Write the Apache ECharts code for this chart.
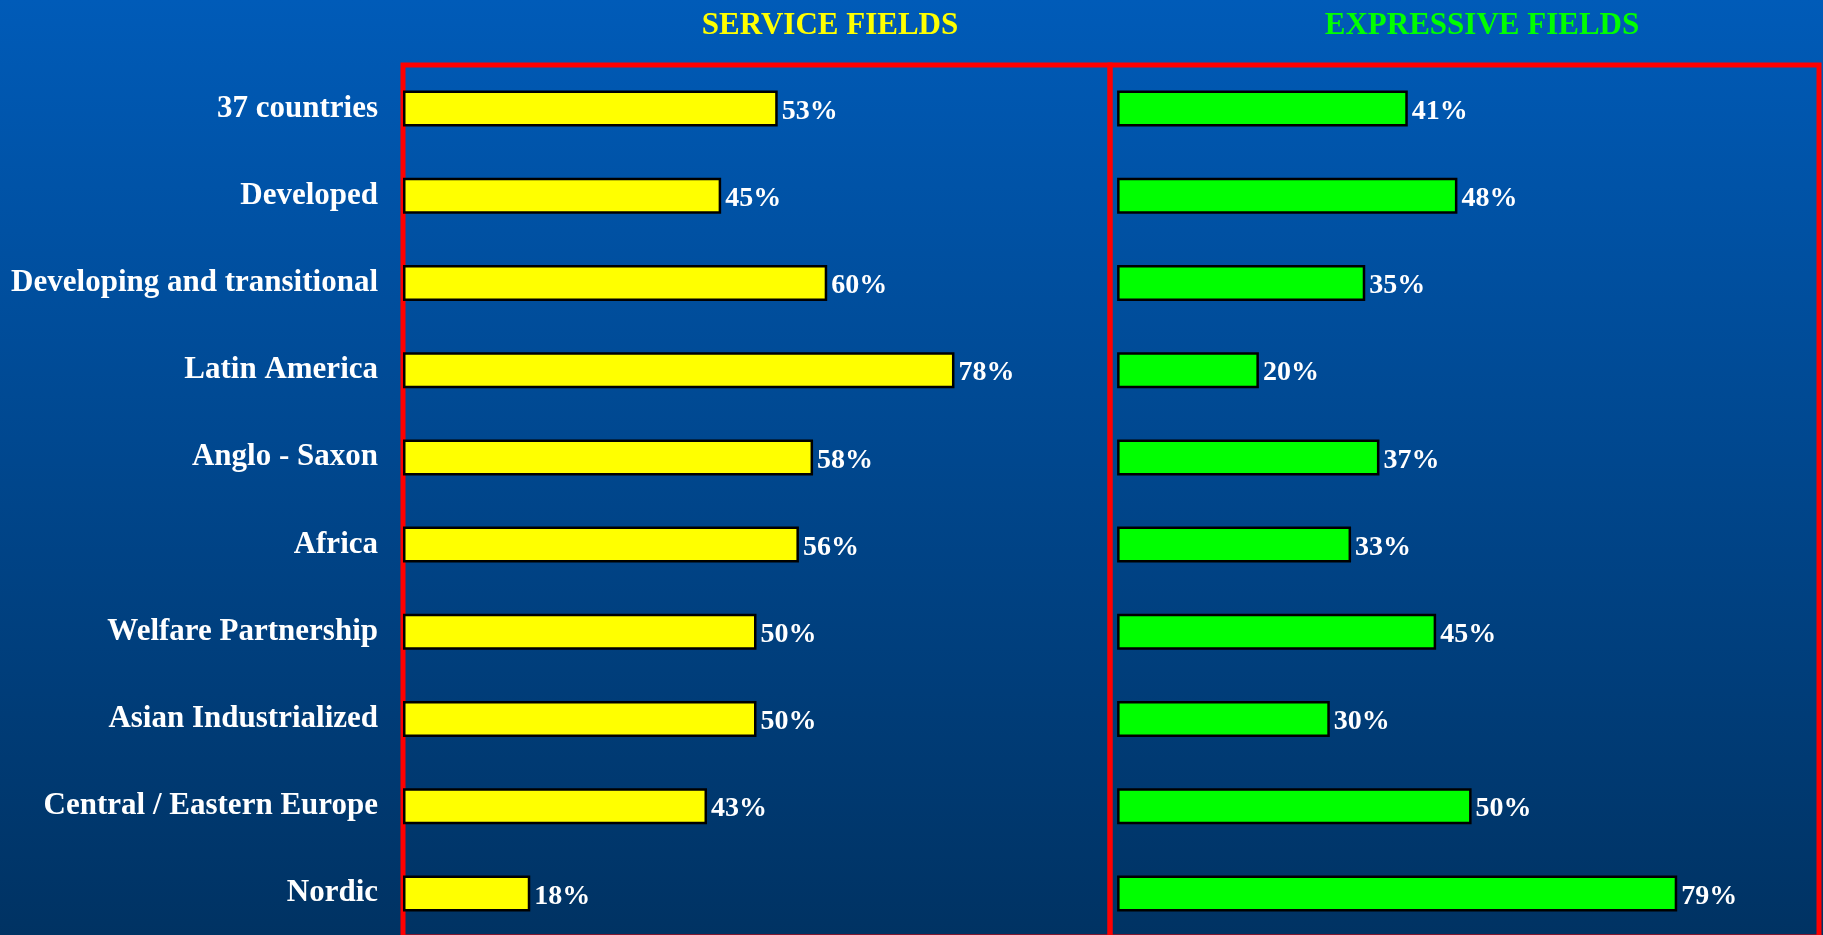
<!DOCTYPE html>
<html>
<head>
<meta charset="utf-8">
<script src="https://cdn.jsdelivr.net/npm/echarts@6/dist/echarts.min.js"></script>
<style>
    html, body { margin: 0; padding: 0; overflow: hidden; }
    /* a bit taller than the window so the frame's bottom edge stays out of view */
    #fields-chart { width: 1823px; height: 945px; }
</style>
</head>
<body>
<div id="fields-chart"></div>
<script>
var chartFields = echarts.init(document.getElementById('fields-chart'));

// 地区分组
var regions = ['37 countries', 'Developed', 'Developing and transitional', 'Latin America',
    'Anglo - Saxon', 'Africa', 'Welfare Partnership', 'Asian Industrialized',
    'Central / Eastern Europe', 'Nordic'];
// 百分比
var serviceFields = [53, 45, 60, 78, 58, 56, 50, 50, 43, 18];
var expressiveFields = [41, 48, 35, 20, 37, 33, 45, 30, 50, 79];
var panelTitles = ['SERVICE FIELDS', 'EXPRESSIVE FIELDS'];

var serif = "'Liberation Serif', 'Times New Roman', serif";

var valueLabel = {
    show: true,
    position: 'right',
    distance: 4,
    offset: [0, 3],
    formatter: '{c}%',
    color: '#fff',
    fontFamily: serif,
    fontWeight: 'bold',
    fontSize: 28
};

var option = {
    backgroundColor: new echarts.graphic.LinearGradient(0, 0, 0, 1, [
        {offset: 0, color: '#005BB8'},
        {offset: 1, color: '#003262'}
    ]),
    textStyle: {fontFamily: serif},
    title: [
        {
            text: panelTitles[0],
            left: 830, top: 10, padding: 0,
            textAlign: 'center',
            textStyle: {color: '#FFFF00', fontFamily: serif, fontWeight: 'bold', fontSize: 31}
        },
        {
            text: panelTitles[1],
            left: 1482, top: 10, padding: 0,
            textAlign: 'center',
            textStyle: {color: '#00FF00', fontFamily: serif, fontWeight: 'bold', fontSize: 31}
        }
    ],
    // 两个面板, 红框
    grid: [
        {left: 403, top: 65, width: 707, height: 872, show: true, borderColor: '#FF0000', borderWidth: 5, backgroundColor: 'transparent'},
        {left: 1110, top: 65, width: 709, height: 872, show: true, borderColor: '#FF0000', borderWidth: 5, backgroundColor: 'transparent'}
    ],
    xAxis: [
        {gridIndex: 0, type: 'value', min: 0, max: 100, show: false},
        // 右侧柱子从红线右边一点开始
        {gridIndex: 1, type: 'value', min: -1, max: 99, show: false}
    ],
    yAxis: [
        {
            gridIndex: 0, type: 'category', data: regions, inverse: true,
            axisLine: {show: false}, axisTick: {show: false}, splitLine: {show: false},
            axisLabel: {margin: 25, color: '#fff', fontFamily: serif, fontWeight: 'bold', fontSize: 31}
        },
        {
            gridIndex: 1, type: 'category', data: regions, inverse: true,
            axisLine: {show: false}, axisTick: {show: false}, splitLine: {show: false},
            axisLabel: {show: false}
        }
    ],
    series: [
        {
            name: panelTitles[0],
            type: 'bar',
            xAxisIndex: 0, yAxisIndex: 0,
            data: serviceFields,
            barWidth: 36,
            itemStyle: {color: '#FFFF00', borderColor: '#000', borderWidth: 2.5},
            label: valueLabel
        },
        {
            name: panelTitles[1],
            type: 'bar',
            xAxisIndex: 1, yAxisIndex: 1,
            data: expressiveFields,
            barWidth: 36,
            itemStyle: {color: '#00FF00', borderColor: '#000', borderWidth: 2.5},
            label: valueLabel
        }
    ]
};
chartFields.setOption(option);
</script>
</body>
</html>
